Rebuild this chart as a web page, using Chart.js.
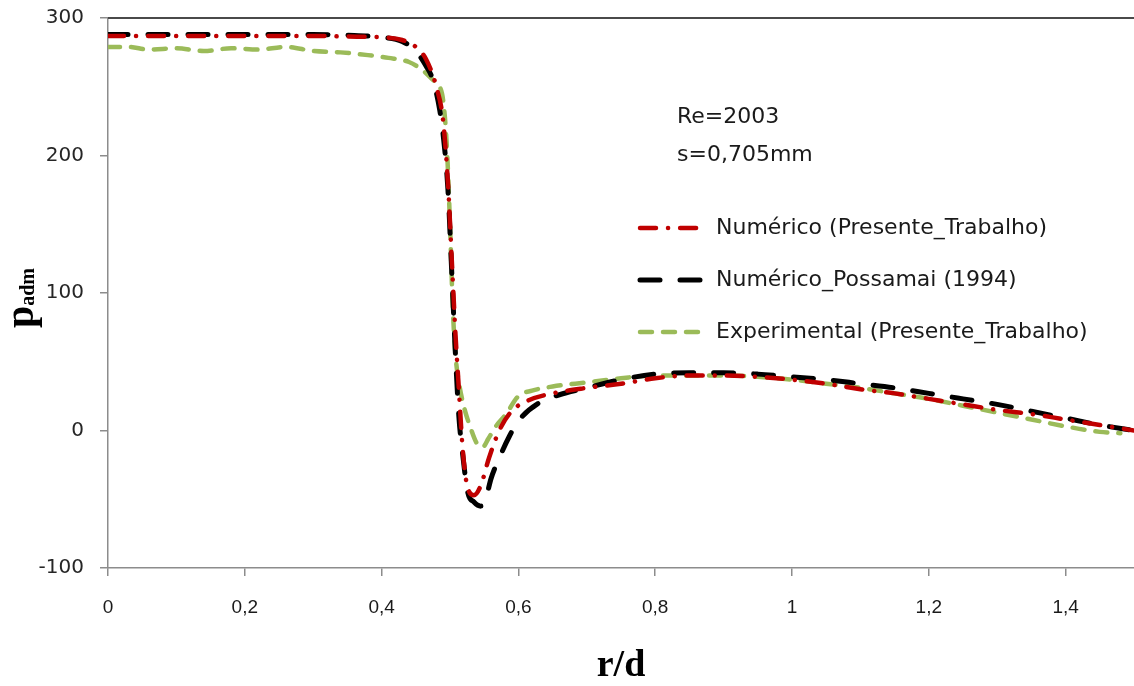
<!DOCTYPE html>
<html>
<head>
<meta charset="utf-8">
<script src="https://cdn.jsdelivr.net/npm/chart.js@4.4.1/dist/chart.umd.min.js"></script>
<style>
  body { margin: 0; background: #fff; }
</style>
</head>
<body>
<canvas id="grafico" width="1134" height="686"></canvas>
<script>
// Numérico (Presente_Trabalho)
const numX = [0, 0.05, 0.1, 0.15, 0.2, 0.25, 0.3, 0.35, 0.4, 0.43, 0.45, 0.465, 0.48, 0.49, 0.497, 0.503, 0.508, 0.513, 0.518, 0.525, 0.535, 0.545, 0.557, 0.572, 0.59, 0.615, 0.65, 0.7, 0.75, 0.8, 0.85, 0.9, 0.95, 1.0, 1.05, 1.1, 1.15, 1.2, 1.25, 1.3, 1.35, 1.4, 1.45, 1.5];
const numY = [287, 287, 287, 287, 287, 287, 287, 286.5, 286, 284, 279, 270, 250, 225, 180, 120, 70, 30, -10, -40, -47, -40, -20, 0, 14, 22, 27, 31, 34, 38, 40, 40, 39, 37, 34, 30, 27, 23, 19, 15, 12, 8, 4, 0];

// Numérico_Possamai (1994)
const possX = [0, 0.1, 0.2, 0.3, 0.35, 0.4, 0.43, 0.45, 0.465, 0.475, 0.485, 0.49, 0.497, 0.503, 0.508, 0.513, 0.518, 0.526, 0.535, 0.545, 0.552, 0.56, 0.572, 0.587, 0.6, 0.63, 0.66, 0.7, 0.75, 0.8, 0.85, 0.9, 0.95, 1.0, 1.05, 1.1, 1.15, 1.2, 1.25, 1.3, 1.35, 1.4, 1.45, 1.5];
const possY = [288, 288, 288, 288, 287.5, 286, 283, 276, 265, 255, 233, 215, 175, 110, 55, 10, -15, -45, -52, -55, -50, -35, -20, -4, 7, 20, 26, 31, 37, 41, 42, 42, 41, 39, 37, 34, 31, 27, 23, 19, 14, 9, 4, 0];

// Experimental (Presente_Trabalho)
const expX = [0, 0.03, 0.06, 0.1, 0.14, 0.18, 0.22, 0.26, 0.3, 0.34, 0.38, 0.41, 0.44, 0.46, 0.475, 0.485, 0.49, 0.495, 0.5, 0.504, 0.508, 0.513, 0.52, 0.53, 0.54, 0.548, 0.556, 0.567, 0.582, 0.6, 0.62, 0.65, 0.7, 0.75, 0.8, 0.85, 0.9, 0.95, 1.0, 1.05, 1.1, 1.15, 1.2, 1.25, 1.3, 1.35, 1.4, 1.45, 1.48];
const expY = [279, 279, 277, 278, 276, 278, 277, 279, 276, 275, 273, 271, 268, 262, 255, 250, 240, 210, 150, 90, 55, 35, 18, 2, -10, -12, -6, 3, 12, 25, 29, 32, 35, 38, 40, 40, 40, 39, 37, 34, 31, 27, 23, 18, 13, 8, 3, -1, -2];

const seriesLabels = ['Numérico (Presente_Trabalho)', 'Numérico_Possamai (1994)', 'Experimental (Presente_Trabalho)'];
const xTicks = [0, 0.2, 0.4, 0.6, 0.8, 1, 1.2, 1.4];
const notes = ['Re=2003', 's=0,705mm'];

const pts = (xs, ys) => xs.map((x, i) => ({ x: x, y: ys[i] }));

// text, legend, y title and top frame line
const extras = {
	id: 'extras',
	afterDraw(chart) {
		const c = chart.ctx;
		const area = chart.chartArea;
		c.save();

		// top frame line
		c.strokeStyle = '#4a4a4a';
		c.lineWidth = 2;
		c.beginPath();
		c.moveTo(area.left, area.top);
		c.lineTo(area.right, area.top);
		c.stroke();

		c.fillStyle = '#1a1a1a';
		c.font = '22px "DejaVu Sans"';
		c.textBaseline = 'alphabetic';
		c.textAlign = 'left';
		c.fillText(notes[0], 677, 123);
		c.fillText(notes[1], 677, 161);

		// legend
		const ds = chart.data.datasets;
		const rows = [228, 280, 332];
		ds.forEach((d, i) => {
			c.save();
			c.strokeStyle = d.borderColor;
			c.lineWidth = d.borderWidth;
			c.lineCap = 'round';
			c.setLineDash(d.borderDash);
			c.beginPath();
			c.moveTo(640, rows[i]);
			c.lineTo(700, rows[i]);
			c.stroke();
			c.restore();
			c.textBaseline = 'middle';
			c.fillText(seriesLabels[i], 716, rows[i]);
		});

		// y title: p with subscript adm
		c.translate(33, 328);
		c.rotate(-Math.PI / 2);
		c.fillStyle = '#000';
		c.textBaseline = 'alphabetic';
		c.font = 'bold 40px "Liberation Serif"';
		c.fillText('p', 0, 0);
		const w = c.measureText('p').width;
		c.font = 'bold 20px "Liberation Serif"';
		c.fillText('adm', w, 1);
		c.restore();
	}
};

const ctx = document.getElementById('grafico').getContext('2d');
new Chart(ctx, {
	type: 'line',
	data: {
		datasets: [
			{
				label: seriesLabels[0],
				data: pts(numX, numY),
				borderColor: '#c00000',
				borderWidth: 4.5,
				borderDash: [16, 12, 0.1, 12],
				borderCapStyle: 'round',
			},
			{
				label: seriesLabels[1],
				data: pts(possX, possY),
				borderColor: '#000000',
				borderWidth: 5,
				borderDash: [20, 20],
				borderCapStyle: 'round',
			},
			{
				label: seriesLabels[2],
				data: pts(expX, expY),
				borderColor: '#9bbb59',
				borderWidth: 4.5,
				borderDash: [12, 11],
				borderCapStyle: 'round',
			},
		],
	},
	options: {
		responsive: false,
		animation: false,
		layout: { padding: { top: 18, right: 0, bottom: 0, left: 0 } },
		elements: {
			point: { radius: 0 },
			line: { cubicInterpolationMode: 'monotone', fill: false },
		},
		plugins: {
			legend: { display: false },
			tooltip: { enabled: false },
		},
		scales: {
			x: {
				type: 'linear',
				min: 0,
				max: 1.5,
				afterBuildTicks: (s) => { s.ticks = xTicks.map((v) => ({ value: v })); },
				afterFit: (s) => { s.height = 118; s.paddingLeft = 0; s.paddingRight = 0; },
				ticks: {
					padding: 20,
					maxRotation: 0,
					color: '#1a1a1a',
					font: { family: '"Liberation Sans Narrow", "Liberation Sans"', size: 19 },
					callback: (v) => String(v).replace('.', ','),
				},
				grid: { drawOnChartArea: false, tickLength: 8, color: '#8c8c8c', lineWidth: 1.5 },
				border: { color: '#8c8c8c', width: 1.5 },
				title: {
					display: true,
					text: 'r/d',
					color: '#000',
					font: { family: '"Liberation Serif"', size: 38, weight: 'bold' },
					padding: { top: 0, bottom: -3 },
				},
			},
			y: {
				min: -100,
				max: 300,
				afterFit: (s) => { s.width = 108; s.paddingTop = 0; s.paddingBottom = 0; },
				ticks: {
					stepSize: 100,
					padding: 16,
					color: '#262626',
					font: { family: '"DejaVu Sans"', size: 20 },
				},
				grid: { drawOnChartArea: false, tickLength: 8, color: '#8c8c8c', lineWidth: 1.5 },
				border: { color: '#8c8c8c', width: 1.5 },
			},
		},
	},
	plugins: [extras],
});
</script>
</body>
</html>
